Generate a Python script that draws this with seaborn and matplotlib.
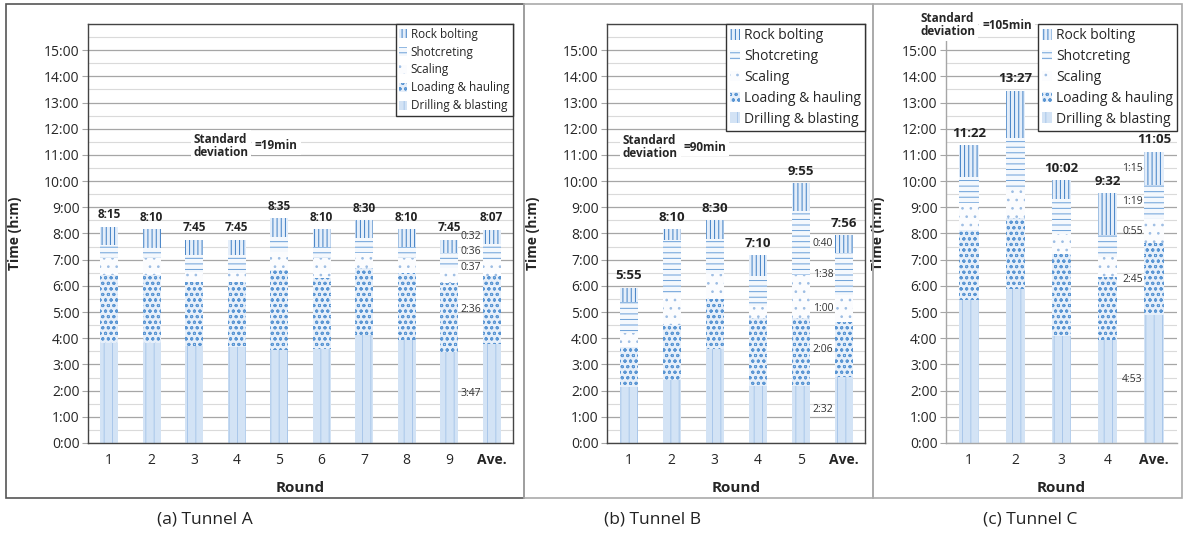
import numpy as np
import pandas as pd
import seaborn as sns
import matplotlib.pyplot as plt
from matplotlib.patches import Patch, Rectangle

# minutes spent per activity (bottom -> top of each stacked bar)
activities = ["Drilling & blasting", "Loading & hauling", "Scaling", "Shotcreting", "Rock bolting"]

rounds_a = ["1", "2", "3", "4", "5", "6", "7", "8", "9", "Ave."]
drill_a = [229, 229, 222, 221, 213, 215, 247, 236, 208, 227]
load_a = [156, 155, 146, 147, 183, 163, 154, 153, 158, 156]
scale_a = [39, 39, 23, 22, 41, 46, 34, 34, 35, 37]
shot_a = [30, 23, 39, 41, 34, 25, 34, 25, 34, 36]
bolt_a = [41, 44, 35, 34, 44, 41, 41, 42, 30, 32]
totals_a = ["8:15", "8:10", "7:45", "7:45", "8:35", "8:10", "8:30", "8:10", "7:45", "8:07"]

rounds_b = ["1", "2", "3", "4", "5", "Ave."]
drill_b = [128, 144, 215, 131, 131, 152]
load_b = [92, 127, 115, 155, 155, 126]
scale_b = [33, 73, 57, 28, 99, 60]
shot_b = [71, 122, 80, 68, 146, 98]
bolt_b = [31, 24, 43, 48, 64, 40]
totals_b = ["5:55", "8:10", "8:30", "7:10", "9:55", "7:56"]

rounds_c = ["1", "2", "3", "4", "Ave."]
drill_c = [327, 352, 245, 236, 293]
load_c = [161, 163, 189, 145, 165]
scale_c = [61, 64, 45, 46, 55]
shot_c = [61, 119, 79, 49, 79]
bolt_c = [72, 109, 44, 96, 75]
totals_c = ["11:22", "13:27", "10:02", "9:32", "11:05"]

std_devs = ["=19min", "=90min", "=105min"]
captions = ["(a) Tunnel A", "(b) Tunnel B", "(c) Tunnel C"]

styles = {
    "Drilling & blasting": dict(color="#d3e3f5", hatch="||", edgecolor="#a9c7ea"),
    "Loading & hauling": dict(color="#e6effa", hatch="ooo", edgecolor="#5b96d3"),
    "Scaling": dict(color="#fbfcfe", hatch="..", edgecolor="#9dbde3"),
    "Shotcreting": dict(color="#f4f8fd", hatch="---", edgecolor="#6a9fd8"),
    "Rock bolting": dict(color="#e4eefa", hatch="||||", edgecolor="#3f7fc4"),
}

sns.set_style("white")
plt.rcParams["font.family"] = ["Open Sans", "DejaVu Sans"]
plt.rcParams["hatch.linewidth"] = 0.7


def hm(m):
    return f"{int(m) // 60}:{int(m) % 60:02d}"


def draw_panel(ax, rounds, layers, totals, std, std_pos, leg_fs, tot_fs, boxed):
    df = pd.DataFrame(dict(zip(activities, layers)), index=rounds)
    cum = df.cumsum(axis=1) / 60
    # draw cumulative heights from the top layer down so each covers the previous
    for act in activities[::-1]:
        st = styles[act]
        sns.barplot(x=rounds, y=cum[act].values, order=rounds, ax=ax, width=0.42,
                    color=st["color"], hatch=st["hatch"], edgecolor=st["edgecolor"],
                    linewidth=0, saturation=1, errorbar=None, zorder=2)

    for i, lab in enumerate(totals):
        ax.annotate(lab, (i, cum.iloc[i, -1]), xytext=(0, 4), textcoords="offset points",
                    ha="center", va="bottom", fontsize=tot_fs, fontweight="bold", color="#222222")

    n = len(rounds) - 1
    ave = df.loc["Ave."]
    for act in activities:
        mid = cum.loc["Ave.", act] - ave[act] / 120
        ax.text(n - 0.24, mid, hm(ave[act]), ha="right", va="center", fontsize=7.5, color="#333333")

    ax.set_ylim(0, 16)
    ax.set_xlim(-0.5, n + 0.5)
    ax.set_yticks(range(16))
    ax.set_yticklabels([f"{h}:00" for h in range(16)])
    ax.set_yticks(np.arange(0.5, 16.01, 0.5), minor=True)
    ax.grid(which="major", axis="y", color="#a6a6a6", lw=0.9)
    ax.grid(which="minor", axis="y", color="#dadada", lw=0.8)
    ax.set_axisbelow(True)
    ax.tick_params(axis="y", which="major", length=4, color="#a6a6a6", labelsize=10, pad=2, left=True)
    ax.tick_params(axis="y", which="minor", length=0)
    ax.tick_params(axis="x", length=0, labelsize=10, pad=7)
    ax.set_xticks(range(len(rounds)))
    ax.set_xticklabels(rounds)
    ax.get_xticklabels()[-1].set_fontweight("bold")

    ax.set_ylabel("Time (h:m)", fontsize=10, fontweight="bold")
    ax.set_xlabel("Round", fontsize=11, fontweight="bold")
    ax.xaxis.set_label_coords(0.5, -0.09)

    for side, sp in ax.spines.items():
        sp.set_color("#444444" if boxed else "#a6a6a6")
        sp.set_linewidth(1.0)
    if not boxed:
        ax.spines["top"].set_visible(False)
        ax.spines["right"].set_visible(False)

    sx, sy, ex = std_pos
    ax.text(sx, sy, "Standard\ndeviation", ha="left", va="center", fontsize=8.5, fontweight="bold",
            linespacing=1.0, clip_on=False, zorder=5,
            bbox=dict(facecolor="white", edgecolor="none", pad=2))
    ax.text(ex, sy, std, ha="left", va="center", fontsize=8.5, fontweight="bold", clip_on=False,
            zorder=5, bbox=dict(facecolor="white", edgecolor="none", pad=2))

    handles = [Patch(facecolor=styles[a]["color"], hatch=styles[a]["hatch"],
                     edgecolor=styles[a]["edgecolor"], linewidth=0, label=a)
               for a in activities[::-1]]
    leg = ax.legend(handles=handles, loc="upper right", bbox_to_anchor=(1, 1), borderaxespad=0,
                    fontsize=leg_fs, frameon=True, fancybox=False, framealpha=1,
                    handlelength=0.7, handleheight=0.8, handletextpad=0.3,
                    borderpad=0.3, labelspacing=0.42)
    leg.get_frame().set_edgecolor("#333333")
    leg.get_frame().set_linewidth(1.0)
    leg.set_zorder(6)


fig = plt.figure(figsize=(11.87, 5.43), dpi=100)
ax_a = fig.add_axes([0.0741, 0.1842, 0.358, 0.7716])
ax_b = fig.add_axes([0.5114, 0.1842, 0.2174, 0.7716])
ax_c = fig.add_axes([0.797, 0.1842, 0.1946, 0.7716])

draw_panel(ax_a, rounds_a, [drill_a, load_a, scale_a, shot_a, bolt_a], totals_a,
           std_devs[0], (1.98, 11.35, 3.43), 8.5, 8.5, True)
draw_panel(ax_b, rounds_b, [drill_b, load_b, scale_b, shot_b, bolt_b], totals_b,
           std_devs[1], (-0.13, 11.3, 1.27), 10, 9.5, True)
draw_panel(ax_c, rounds_c, [drill_c, load_c, scale_c, shot_c, bolt_c], totals_c,
           std_devs[2], (-1.06, 15.95, 0.28), 10, 9.5, False)

ax_a.yaxis.set_label_coords(-0.155, 0.5)
ax_b.yaxis.set_label_coords(-0.26, 0.5)
ax_c.yaxis.set_label_coords(-0.264, 0.5)

# panel frames
W, H = 1187, 543
for (x0, x1, col) in [(6, 524, "#555555"), (524, 873, "#aaaaaa"), (873, 1182, "#aaaaaa")]:
    fig.add_artist(Rectangle((x0 / W, (H - 498) / H), (x1 - x0) / W, 494 / H,
                             transform=fig.transFigure, fill=False, edgecolor=col, linewidth=1.2))

for cx, cap in zip([205, 653, 1030], captions):
    fig.text(cx / W, (H - 520) / H, cap, ha="center", va="center", fontsize=12.5, color="#222222")

fig.savefig("out.png", dpi=100)
